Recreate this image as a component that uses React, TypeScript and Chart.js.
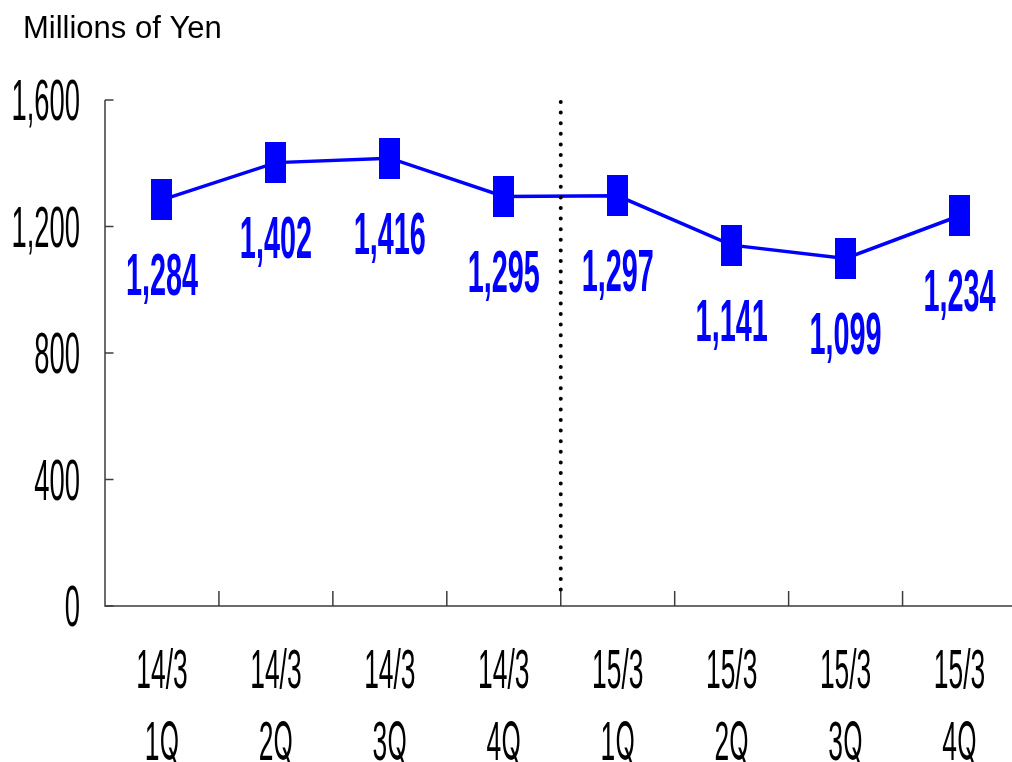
import React, { useEffect, useRef } from "react";
import { Chart, registerables } from "chart.js";

Chart.register(...registerables);

const categoryYears = ["14/3", "14/3", "14/3", "14/3", "15/3", "15/3", "15/3", "15/3"];
const categoryQuarters = ["1Q", "2Q", "3Q", "4Q", "1Q", "2Q", "3Q", "4Q"];
const salesValues = [1284, 1402, 1416, 1295, 1297, 1141, 1099, 1234];
const yTickValues = [0, 400, 800, 1200, 1600];
const unitLabel = "Millions of Yen";
const dividerAfterIndex = 3;

const BLUE = "#0000FF";
const AXIS = "#3c3c3c";
const SQUEEZE = 0.48;
const FONT = '"Liberation Sans", Arial, sans-serif';
const FONT_Q = 'Inter, "DejaVu Sans", sans-serif';

function fmt(v: number) {
  return v.toString().replace(/\B(?=(\d{3})+(?!\d))/g, ",");
}

type Run = { text: string; family: string; scale?: number };

function squeezedRuns(
  ctx: CanvasRenderingContext2D,
  runs: Run[],
  x: number,
  centerY: number,
  size: number,
  weight: string,
  align: "left" | "right" | "center",
  color: string
) {
  ctx.save();
  ctx.fillStyle = color;
  ctx.textBaseline = "alphabetic";
  const widths = runs.map((r) => {
    ctx.font = `${weight} ${size * (r.scale || 1)}px ${r.family}`;
    return ctx.measureText(r.text).width;
  });
  const total = widths.reduce((a, b) => a + b, 0);
  let start = align === "left" ? 0 : align === "right" ? -total : -total / 2;
  ctx.translate(x, centerY + size * 0.358);
  ctx.scale(SQUEEZE, 1);
  ctx.textAlign = "left";
  runs.forEach((r, i) => {
    ctx.font = `${weight} ${size * (r.scale || 1)}px ${r.family}`;
    ctx.fillText(r.text, start, 0);
    start += widths[i];
  });
  ctx.restore();
}

function squeezedText(
  ctx: CanvasRenderingContext2D,
  text: string,
  x: number,
  centerY: number,
  size: number,
  weight: string,
  align: "left" | "right" | "center",
  color: string
) {
  squeezedRuns(ctx, [{ text, family: FONT }], x, centerY, size, weight, align, color);
}

const decorPlugin = {
  id: "decor",
  afterDatasetsDraw(chart: any) {
    const ctx: CanvasRenderingContext2D = chart.ctx;
    const x = chart.scales.x;
    const y = chart.scales.y;
    const area = chart.chartArea;

    // axes
    ctx.save();
    ctx.strokeStyle = AXIS;
    ctx.lineWidth = 1.5;
    ctx.beginPath();
    ctx.moveTo(area.left, y.getPixelForValue(yTickValues[yTickValues.length - 1]));
    ctx.lineTo(area.left, area.bottom);
    ctx.lineTo(chart.width, area.bottom);
    ctx.stroke();
    yTickValues.forEach((v) => {
      const py = y.getPixelForValue(v);
      ctx.beginPath();
      ctx.moveTo(area.left, py);
      ctx.lineTo(area.left + 8.5, py);
      ctx.stroke();
    });
    for (let k = 1; k < categoryYears.length; k++) {
      const px = x.getPixelForValue(k - 0.5);
      ctx.beginPath();
      ctx.moveTo(px, area.bottom);
      ctx.lineTo(px, area.bottom - 15);
      ctx.stroke();
    }
    ctx.restore();

    // dotted divider
    ctx.save();
    const dx = x.getPixelForValue(dividerAfterIndex + 0.5);
    ctx.strokeStyle = "#000";
    ctx.lineWidth = 4;
    ctx.lineCap = "round";
    ctx.setLineDash([0, 10.6]);
    ctx.beginPath();
    ctx.moveTo(dx, area.top + 2);
    ctx.lineTo(dx, area.bottom - 8);
    ctx.stroke();
    ctx.restore();

    // y tick labels
    yTickValues.forEach((v) => {
      squeezedText(ctx, fmt(v), 80, y.getPixelForValue(v), 57, "normal", "right", "#000");
    });

    // x labels
    categoryYears.forEach((yr, i) => {
      const px = x.getPixelForValue(i);
      squeezedText(ctx, yr, px, 668, 55, "normal", "center", "#000");
      const q = categoryQuarters[i];
      squeezedRuns(
        ctx,
        [
          { text: q.slice(0, -1), family: FONT },
          { text: q.slice(-1), family: FONT_Q, scale: 0.98 },
        ],
        px,
        740,
        55,
        "normal",
        "center",
        "#000"
      );
    });

    // data labels
    const meta = chart.getDatasetMeta(0);
    meta.data.forEach((pt: any, i: number) => {
      squeezedText(ctx, fmt(salesValues[i]), pt.x, pt.y + 74, 60, "bold", "center", BLUE);
    });

    // unit label
    ctx.save();
    ctx.font = `31px ${FONT}`;
    ctx.fillStyle = "#000";
    ctx.textAlign = "left";
    ctx.textBaseline = "alphabetic";
    ctx.fillText(unitLabel, 23, 37.5);
    ctx.restore();
  },
};

export default function App() {
  const ref = useRef<HTMLCanvasElement | null>(null);

  useEffect(() => {
    if (!ref.current) return;
    const marker = document.createElement("canvas");
    marker.width = 21;
    marker.height = 41;
    const mctx = marker.getContext("2d")!;
    mctx.fillStyle = BLUE;
    mctx.fillRect(0, 0, 21, 41);

    const chart = new Chart(ref.current, {
      type: "line",
      data: {
        labels: categoryYears.map((y, i) => `${y} ${categoryQuarters[i]}`),
        datasets: [
          {
            data: salesValues,
            borderColor: BLUE,
            backgroundColor: BLUE,
            borderWidth: 3.5,
            pointStyle: marker as any,
            pointRadius: 10,
            tension: 0,
          },
        ],
      },
      options: {
        responsive: false,
        animation: false,
        devicePixelRatio: 1,
        layout: { padding: { left: 105, right: 11.4, top: 100, bottom: 156 } },
        plugins: { legend: { display: false }, tooltip: { enabled: false } },
        scales: {
          x: { type: "category", display: false, offset: true },
          y: {
            display: false,
            min: yTickValues[0],
            max: yTickValues[yTickValues.length - 1],
            ticks: { stepSize: 400 },
          },
        },
      },
      plugins: [decorPlugin],
    });
    return () => chart.destroy();
  }, []);

  return (
    <div
      style={{
        position: "absolute",
        left: 0,
        top: 0,
        width: 1012,
        height: 762,
        overflow: "hidden",
        background: "#fff",
      }}
    >
      <canvas ref={ref} width={1030} height={762} style={{ display: "block" }} />
    </div>
  );
}
